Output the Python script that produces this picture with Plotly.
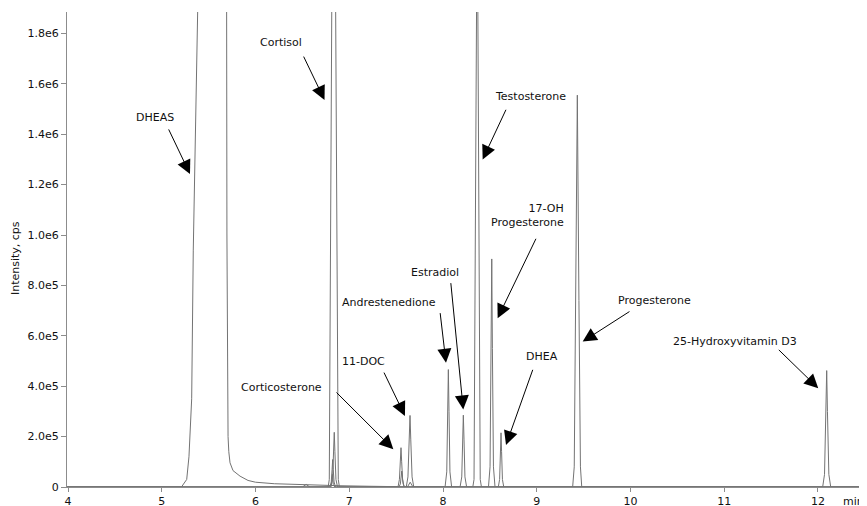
import plotly.graph_objects as go

# chromatogram traces (retention time in min, intensity in cps)
# broad DHEAS peak with its long tail (runs off the top)
dheas_x = [3.99, 5.21, 5.266, 5.29, 5.319, 5.336, 5.383, 5.42, 5.5, 5.66, 5.692, 5.695, 5.70,
           5.707, 5.715, 5.728, 5.76, 5.835, 5.92, 6.0, 6.2, 6.475, 6.7, 6.9, 7.2, 7.6, 12.6]
dheas_y = [0, 0, 3e4, 1.2e5, 3.5e5, 9.4e5, 1.89e6, 2.8e6, 3.5e6, 2.8e6, 1.89e6, 1.0e6, 4.0e5,
           2.0e5, 1.4e5, 9.6e4, 6.5e4, 4.3e4, 2.6e4, 1.9e4, 1.3e4, 9e3, 7e3, 5e3, 3e3, 1e3, 0]

# channel A: cortisol, corticosterone, andrestenedione, testosterone, DHEA, 25-OH D3
chan_a_x = [3.99,
            6.775, 6.787, 6.813, 6.834, 6.855, 6.883, 6.895,
            7.52, 7.535, 7.545, 7.552, 7.559, 7.569, 7.585,
            8.022, 8.04, 8.05, 8.057, 8.064, 8.074, 8.092,
            8.318, 8.331, 8.343, 8.358, 8.365, 8.372, 8.385, 8.397, 8.41,
            8.59, 8.604, 8.613, 8.619, 8.625, 8.634, 8.648,
            12.05, 12.07, 12.085, 12.093, 12.101, 12.116, 12.136,
            12.6]
chan_a_y = [0,
            0, 3e4, 1.887e6, 3.35e6, 1.887e6, 3e4, 0,
            0, 3e4, 1.0e5, 1.56e5, 1.0e5, 3e4, 0,
            0, 6e4, 3.0e5, 4.66e5, 3.0e5, 6e4, 0,
            0, 3e4, 7.4e5, 1.887e6, 2.4e6, 1.887e6, 7.4e5, 3e4, 0,
            0, 3e4, 1.4e5, 2.15e5, 1.4e5, 3e4, 0,
            0, 5e4, 3.0e5, 4.62e5, 3.0e5, 5e4, 0,
            0]

# channel B: 11-DOC, estradiol, 17-OH progesterone, progesterone
chan_b_x = [3.99,
            6.805, 6.822, 6.833, 6.84, 6.847, 6.858, 6.875,
            7.608, 7.626, 7.64, 7.648, 7.656, 7.67, 7.688,
            8.182, 8.2, 8.21, 8.217, 8.224, 8.234, 8.252,
            8.485, 8.502, 8.513, 8.52, 8.527, 8.538, 8.555,
            9.383, 9.40, 9.416, 9.433, 9.45, 9.466, 9.48,
            12.6]
chan_b_y = [0,
            0, 3e4, 1.4e5, 2.17e5, 1.4e5, 3e4, 0,
            0, 4e4, 1.9e5, 2.84e5, 1.9e5, 4e4, 0,
            0, 4e4, 1.9e5, 2.85e5, 1.9e5, 4e4, 0,
            0, 8e4, 5.5e5, 9.05e5, 5.5e5, 8e4, 0,
            0, 8e4, 7.4e5, 1.555e6, 7.4e5, 8e4, 0,
            0]

# channel C: small peaks
chan_c_x = [3.99, 6.50, 6.54, 6.58,
            6.793, 6.808, 6.817, 6.823, 6.829, 6.838, 6.853,
            7.53, 7.545, 7.554, 7.56, 7.566, 7.575, 7.59,
            12.6]
chan_c_y = [0, 0, 1e4, 0,
            0, 2e4, 7e4, 1.09e5, 7e4, 2e4, 0,
            0, 1.2e4, 4e4, 6.3e4, 4e4, 1.2e4, 0,
            0]

# channel D
chan_d_x = [3.99, 6.795, 6.81, 6.82, 6.83, 6.845, 7.62, 7.65, 7.68, 12.6]
chan_d_y = [0, 0, 1e4, 5e4, 1e4, 0, 0, 1.9e4, 0, 0]

# peak labels, and where each arrow tip lands
labels = ["DHEAS", "Cortisol", "Testosterone", "17-OH<br>Progesterone", "Estradiol",
          "Andrestenedione", "11-DOC", "Corticosterone", "DHEA", "Progesterone",
          "25-Hydroxyvitamin D3"]
tip_x = [5.301, 6.736, 8.423, 8.583, 8.216, 8.032, 7.594, 7.470, 8.672, 9.490, 12.003]
tip_y = [1.242e6, 1.536e6, 1.300e6, 6.70e5, 3.08e5, 4.93e5, 2.82e5, 1.50e5, 1.67e5, 5.77e5, 3.92e5]

# layout only: label centres and arrow tails, in data units
label_pos = [(4.928, 1.468e6), (6.277, 1.762e6), (8.936, 1.549e6), (8.904, 1.076e6),
             (7.911, 8.52e5), (7.422, 7.31e5), (7.150, 4.97e5), (6.282, 3.94e5),
             (9.059, 5.17e5), (10.252, 7.39e5), (11.120, 5.77e5)]
tail_pos = [(5.066, 1.425e6), (6.506, 1.714e6), (8.679, 1.503e6), (8.999, 9.91e5),
            (8.082, 8.15e5), (7.968, 6.96e5), (7.363, 4.60e5), (6.848, 3.81e5),
            (8.963, 4.71e5), (10.005, 7.00e5), (11.566, 5.50e5)]

x_ticks = [4, 5, 6, 7, 8, 9, 10, 11, 12]
y_ticks = [0, 2e5, 4e5, 6e5, 8e5, 1.0e6, 1.2e6, 1.4e6, 1.6e6, 1.8e6]
y_ticktext = ["0", "2.0e5", "4.0e5", "6.0e5", "8.0e5", "1.0e6", "1.2e6", "1.4e6", "1.6e6", "1.8e6"]

FONT = "DejaVu Sans, Verdana, sans-serif"
LINE = "#737373"
AXIS = "#8c8c8c"
TEXT = "#111111"

fig = go.Figure()
for xs, ys in [(dheas_x, dheas_y), (chan_d_x, chan_d_y), (chan_c_x, chan_c_y),
               (chan_b_x, chan_b_y), (chan_a_x, chan_a_y)]:
    fig.add_trace(go.Scatter(
        x=xs, y=ys, mode="lines",
        line=dict(color=LINE, width=1),
        showlegend=False, hoverinfo="skip",
    ))

annotations = []
for i, name in enumerate(labels):
    # arrow on its own, so its start point can sit anywhere near the text
    annotations.append(dict(
        x=tip_x[i], y=tip_y[i], xref="x", yref="y",
        ax=tail_pos[i][0], ay=tail_pos[i][1], axref="x", ayref="y",
        text="", showarrow=True,
        arrowhead=2, arrowsize=2.8, arrowwidth=1, arrowcolor="#000000",
        standoff=0, startstandoff=0,
    ))
    annotations.append(dict(
        x=label_pos[i][0], y=label_pos[i][1], xref="x", yref="y",
        text=name, showarrow=False,
        align="right", xanchor="center", yanchor="middle",
        font=dict(family=FONT, size=11, color=TEXT),
    ))

# axis unit and y title
annotations.append(dict(
    x=12.245, y=-0.0295, xref="x", yref="paper",
    text="min", showarrow=False, xanchor="left", yanchor="middle",
    font=dict(family=FONT, size=11, color=TEXT),
))
annotations.append(dict(
    x=-0.065, y=0.482, xref="paper", yref="paper",
    text="Intensity, cps", textangle=-90, showarrow=False,
    xanchor="center", yanchor="middle",
    font=dict(family=FONT, size=11, color=TEXT),
))

# page body has an 8px margin, so the figure is 8px smaller and margins shifted
fig.update_layout(
    width=859, height=498,
    margin=dict(l=59, r=0, t=4, b=19),
    plot_bgcolor="white", paper_bgcolor="white",
    font=dict(family=FONT, size=11, color=TEXT),
    xaxis=dict(
        range=[3.989, 12.523],
        tickmode="array", tickvals=x_ticks,
        ticks="outside", ticklen=4, tickcolor=AXIS,
        showline=True, linecolor=AXIS, linewidth=1,
        showgrid=False, zeroline=False, automargin=False,
        tickfont=dict(family=FONT, size=11, color=TEXT),
    ),
    yaxis=dict(
        range=[0, 1.885e6],
        tickmode="array", tickvals=y_ticks, ticktext=y_ticktext,
        ticks="outside", ticklen=5, tickcolor=AXIS,
        showline=True, linecolor=AXIS, linewidth=1,
        showgrid=False, zeroline=False, automargin=False,
        tickfont=dict(family=FONT, size=11, color=TEXT),
    ),
    annotations=annotations,
)

fig.write_html("out.html")
